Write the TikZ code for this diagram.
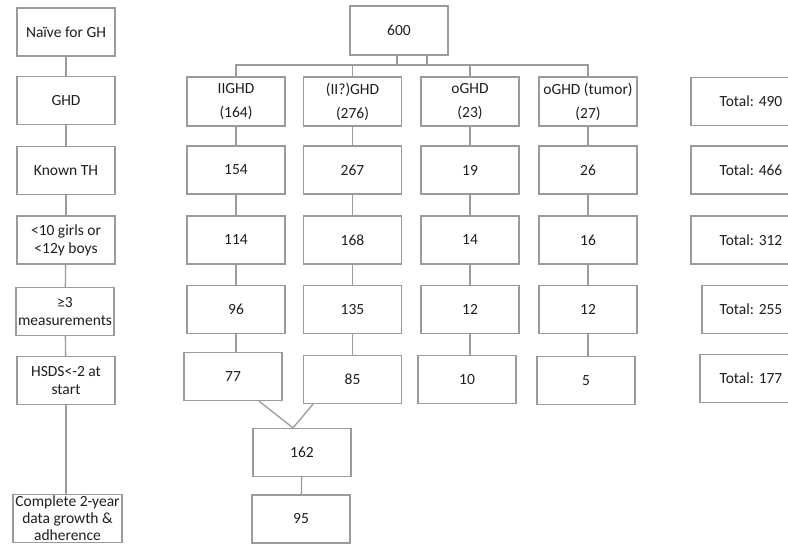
\documentclass[tikz,border=0pt]{standalone}
\usepackage{fontspec}
\setmainfont{Carlito}
\definecolor{boxgray}{RGB}{155,155,155}
\definecolor{inkgray}{RGB}{30,30,30}

\begin{document}
\begin{tikzpicture}[x=1pt, y=-1pt,
        box/.style={draw=boxgray, line width=1.3pt, text=inkgray, align=center, inner sep=0pt,
                    minimum width=98pt, minimum height=48pt, font=\fontsize{15.5}{18}\selectfont},
        link/.style={draw=boxgray, line width=1.3pt}]
            \path[use as bounding box, clip] (0,0) rectangle (788,544);

            \node[box]                       (naive)    at ( 66.0,  32.0) {Naïve for GH};
            \node[box]                       (ghd)      at ( 66.0, 100.5) {GHD};
            \node[box]                       (knownth)  at ( 66.0, 170.5) {Known TH};
            \node[box]                       (age)      at ( 66.0, 240.0) {<10 girls or\\<12y boys};
            \node[box]                       (meas)     at ( 65.0, 311.5) {≥3\\measurements};
            \node[box]                       (hsds)     at ( 66.0, 380.5) {HSDS<-2 at\\start};
            \node[box, minimum width=109pt, font=\fontsize{15.5}{17}\selectfont]
                                             (complete) at ( 67.5, 518.5) {Complete 2-year\\data growth \&\\adherence};

            \node[box, minimum height=49pt]  (all)      at (399.0,  30.5) {600};

            \node[box, minimum height=49pt]  (iighd)    at (236.0, 101.5) {IIGHD\\[6pt](164)};
            \node[box, minimum height=49pt]  (qghd)     at (352.5, 101.5) {(II?)GHD\\[6pt](276)};
            \node[box, minimum height=49pt]  (oghd)     at (470.0, 101.5) {oGHD\\[6pt](23)};
            \node[box, minimum height=49pt]  (tumor)    at (588.0, 101.5) {oGHD (tumor)\\[6pt](27)};

            \node[box]                       (a2)       at (236.0, 170.0) {154};
            \node[box]                       (b2)       at (352.5, 170.0) {267};
            \node[box]                       (c2)       at (470.0, 170.0) {19};
            \node[box]                       (d2)       at (588.0, 170.0) {26};

            \node[box]                       (a3)       at (236.0, 240.0) {114};
            \node[box]                       (b3)       at (352.5, 240.0) {168};
            \node[box]                       (c3)       at (470.0, 240.0) {14};
            \node[box]                       (d3)       at (588.0, 240.0) {16};

            \node[box]                       (a4)       at (236.0, 309.5) {96};
            \node[box]                       (b4)       at (352.5, 309.5) {135};
            \node[box]                       (c4)       at (470.0, 309.5) {12};
            \node[box]                       (d4)       at (588.0, 309.5) {12};

            \node[box]                       (a5)       at (233.0, 376.5) {77};
            \node[box]                       (b5)       at (352.5, 379.5) {85};
            \node[box]                       (c5)       at (467.0, 379.5) {10};
            \node[box]                       (d5)       at (586.0, 380.5) {5};

            \node[box]                       (merged)   at (302.0, 452.5) {162};
            \node[box]                       (final)    at (301.0, 519.0) {95};

            \node[box, minimum width=120pt]  (tot1)     at (751.0, 101.5) {Total: 490};
            \node[box, minimum width=120pt]  (tot2)     at (751.0, 170.0) {Total: 466};
            \node[box, minimum width=120pt]  (tot3)     at (751.0, 240.0) {Total: 312};
            \node[box]                       (tot4)     at (751.0, 309.5) {Total: 255};
            \node[box, minimum width=102pt]  (tot5)     at (751.0, 378.5) {Total: 177};

            \draw[link] (naive) -- (ghd);
            \draw[link] (ghd) -- (knownth);
            \draw[link] (knownth) -- (age);
            \draw[link] (age) -- (meas);
            \draw[link] (meas) -- (hsds);
            \draw[link] (hsds) -- (complete.north -| hsds);

            \coordinate (bar) at (0,65);
            \draw[link] ([xshift=-2pt]all.south) -- ([xshift=-2pt]all.south |- bar);
            \draw[link] ([xshift=28pt]all.south) -- ([xshift=28pt]all.south |- bar);
            \draw[link] (iighd.north) -- (iighd.north |- bar) -- (tumor.north |- bar) -- (tumor.north);
            \draw[link] (qghd.north) -- (qghd.north |- bar);
            \draw[link] (oghd.north) -- (oghd.north |- bar);

            \foreach \col/\top in {a/iighd, b/qghd, c/oghd, d/tumor} {
                \draw[link] (\top) -- (\col2);
                \draw[link] (\col2) -- (\col3);
                \draw[link] (\col3) -- (\col4);
                \draw[link] (\col4.south) -- (\col4.south |- \col5.north);
            }

            \draw[link] ([xshift=26pt]a5.south) -- ([xshift=-9pt]merged.north);
            \draw[link] ([xshift=-39.5pt]b5.south) -- ([xshift=-9pt]merged.north);
            \draw[link] (merged) -- (final);
        \end{tikzpicture}
\end{document}
